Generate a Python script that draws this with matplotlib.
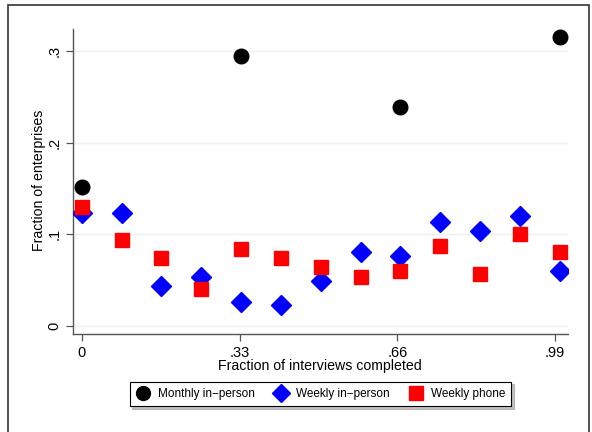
import matplotlib
matplotlib.use("Agg")
import matplotlib.pyplot as plt
from matplotlib.patches import Rectangle
import numpy as np

plt.rcParams['font.family'] = ['Liberation Sans', 'DejaVu Sans']

# Data
monthly_x = [0, 1/3, 2/3, 1.0]
monthly_y = [0.151, 0.295, 0.2385, 0.315]

weekly_x = [k / 12 for k in range(13)]
weekly_inperson = [0.123, 0.1235, 0.0435, 0.053, 0.026, 0.023, 0.049,
                   0.080, 0.0765, 0.1137, 0.103, 0.120, 0.060]
weekly_phone = [0.130, 0.0937, 0.0737, 0.040, 0.0835, 0.0737, 0.0638,
                0.0536, 0.060, 0.087, 0.0565, 0.1005, 0.080]

xticks = [0, 0.33, 0.66, 0.99]
xticklabels = ['0', '.33', '.66', '.99']
yticks = [0, 0.1, 0.2, 0.3]
yticklabels = ['0', '.1', '.2', '.3']

fig = plt.figure(figsize=(5.92, 4.32), dpi=100)
fig.patch.set_facecolor('white')
ax = fig.add_axes([73/592, 1 - 334.3/432, (568.3 - 73)/592, (334.3 - 29)/432])

ax.plot(monthly_x, monthly_y, 'o', color='black', markersize=10.5,
        linestyle='none', label='Monthly in\u2212person', zorder=3)
ax.plot(weekly_x, weekly_inperson, 'D', color='#0000ff', markersize=9.8,
        linestyle='none', label='Weekly in\u2212person', zorder=3)
ax.plot(weekly_x, weekly_phone, 's', color='#ff0000', markersize=9.9,
        linestyle='none', label='Weekly phone', zorder=3)

ax.set_xlim(-0.0182, 1.0176)
ax.set_ylim(-0.0094, 0.324)

ax.set_xticks(xticks)
ax.set_xticklabels(xticklabels)
ax.set_yticks(yticks)
ax.set_yticklabels(yticklabels, rotation=90, va='center')

for y in yticks:
    ax.axhline(y, color='#eaf2f3', linewidth=1.0, zorder=1)

for s in ['top', 'right']:
    ax.spines[s].set_visible(False)
for s in ['left', 'bottom']:
    ax.spines[s].set_color('#555555')
    ax.spines[s].set_linewidth(1.0)

ax.tick_params(axis='both', direction='out', length=5, width=0.9,
               color='#555555', labelsize=10.5, labelcolor='black', pad=3.5)

ax.set_xlabel('Fraction of interviews completed', fontsize=10.2)
ax.set_ylabel('Fraction of enterprises', fontsize=10.2)
ax.xaxis.label.set_va('center')
ax.yaxis.label.set_va('center')
ax.xaxis.set_label_coords((320 - 73) / 495.3, (334.3 - 366) / 305.3)
ax.yaxis.set_label_coords((39 - 73) / 495.3, 0.504)

leg = ax.legend(loc='center', bbox_to_anchor=(320.5/592, 1 - 394/432),
                bbox_transform=fig.transFigure, ncol=3, frameon=True,
                fancybox=False, shadow={'color': '#999999', 'alpha': 0.6},
                fontsize=8.5, edgecolor='black',
                handlelength=1.2, handletextpad=0.67, columnspacing=1.6,
                borderpad=0.55, borderaxespad=0, markerscale=0.95)
leg.get_frame().set_linewidth(0.8)

# Outer figure border
fig.patches.append(Rectangle((8/592, -0.02), (589 - 8)/592, 1 - 5/432 + 0.02,
                             transform=fig.transFigure, fill=False,
                             edgecolor='#333333', linewidth=1.2))

fig.savefig('out.png', dpi=100)
